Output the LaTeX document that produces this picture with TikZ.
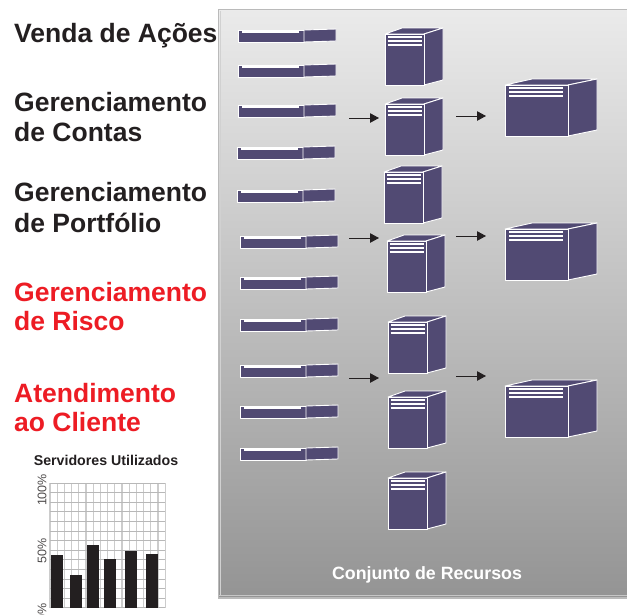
\documentclass[tikz,border=0pt]{standalone}
\usepackage{fontspec}
\setmainfont{Liberation Sans}
\usetikzlibrary{arrows.meta}
\definecolor{srv}{HTML}{514A73}
\definecolor{ttl}{HTML}{231F20}
\definecolor{alert}{HTML}{ED1C24}
\tikzset{x=1pt,y=-1pt,
 hw/.style={fill=srv,draw=white,line width=0.9pt,line join=round},
 stripe/.style={draw=white,line width=1.9pt},
 heading/.style={font=\bfseries\fontsize{26.5}{29}\selectfont,text=ttl,anchor=base west,inner sep=0pt,align=left},
 alerthead/.style={heading,text=alert},
 flow/.style={draw=ttl,line width=1pt,-{Triangle[length=9pt,width=9.5pt]}},
 pct/.style={font=\fontsize{12.5}{12.5}\selectfont,text=ttl!80,rotate=90,inner sep=0pt},
 blade/.pic={
  \filldraw[hw] (0,0) -- (66,0) -- (66,12) -- (0,12) -- cycle;
  \filldraw[hw] (66,0) -- (98,-1) -- (98,11) -- (66,12) -- cycle;
  \fill[white] (4,-0.5) rectangle (61,2.6);
 },
 tower/.pic={
  \filldraw[hw] (0,0) -- (17,-6) -- (58,-6) -- (39,0) -- cycle;
  \filldraw[hw] (39,0) -- (58,-6) -- (58,46) -- (39,51) -- cycle;
  \filldraw[hw] (0,0) rectangle (39,51);
  \foreach \yy in {2.6,6.7,10.7}{\draw[stripe] (2.7,\yy) -- (37,\yy);}
 },
 large/.pic={
  \filldraw[hw] (0,0) -- (27,-6) -- (92,-6) -- (63,0) -- cycle;
  \filldraw[hw] (63,0) -- (92,-6) -- (92,45) -- (63,51) -- cycle;
  \filldraw[hw] (0,0) rectangle (63,51);
  \foreach \yy in {2.6,6.7,10.7}{\draw[stripe] (4,\yy) -- (58,\yy);}
 }
}
\begin{document}
\begin{tikzpicture}
\useasboundingbox (0,0) rectangle (627,614);
\fill[white] (0,0) rectangle (627,614);
\path[top color=black!8,bottom color=black!42,middle color=black!25,draw=black!27,line width=1.2pt] (218.5,9.5) rectangle (628,598);
\draw[black!18,line width=0.8pt] (220,596) -- (220,11);
\draw[black!22,line width=1pt] (219,595.8) -- (628,595.8);
% blades
\foreach \px/\py in {238/30,238/65,238/105,237/147,237/190,240/236,240/277,240/319,240/365,240/406,240/448}
  \pic at (\px,\py) {blade};
\foreach \px/\py in {385/34,385/104,384/172,387/241,388/322,388/397,388/478}
  \pic at (\px,\py) {tower};
\foreach \px/\py in {505/85,505/229,505/386}
  \pic at (\px,\py) {large};
% arrows
\foreach \n/\xa/\xb/\yy in {a/349/379/118,b/456/486/116,c/349/379/238,d/456/486/236,e/349/379/378,f/456/486/376}{
  \coordinate (\n s) at (\xa,\yy);
  \coordinate (\n e) at (\xb,\yy);
  \draw[flow] (\n s) -- (\n e);
}
\node[font=\bfseries\fontsize{17.8}{20}\selectfont,text=white,anchor=base] (pool) at (427,579) {Conjunto de Recursos};
% headings
\node[heading] (h1) at (14,42) {Venda de Ações};
\node[heading] (h2) at (14,111) {Gerenciamento};
\node[heading] (h2b) at (14,141) {de Contas};
\node[heading] (h3) at (14,201) {Gerenciamento};
\node[heading] (h3b) at (14,232) {de Portfólio};
\node[alerthead] (h4) at (14,301) {Gerenciamento};
\node[alerthead] (h4b) at (14,330) {de Risco};
\node[alerthead] (h5) at (14,402) {Atendimento};
\node[alerthead] (h5b) at (14,431) {ao Cliente};
% chart
\node[font=\bfseries\fontsize{14.2}{16}\selectfont,text=ttl,anchor=base] (ct) at (106,465) {Servidores Utilizados};
\foreach \xx in {50,57.2,...,165.5}{\draw[black!20,line width=1.1pt] (\xx,483) -- (\xx,608);}
\foreach \yy in {483,492.6,...,609}{\draw[black!28,line width=1pt] (50,\yy) -- (165,\yy);}
\foreach \xa/\yy in {51/555,70/575,87/545,104/559,125/551,146/554}
  \fill[ttl] (\xa,\yy) rectangle (\xa+12,608);
\node[pct] (p100) at (42,490) {100\%};
\node[pct] (p50) at (42,551) {50\%};
\node[pct] (p0) at (42,612) {0\%};
\end{tikzpicture}
\end{document}
